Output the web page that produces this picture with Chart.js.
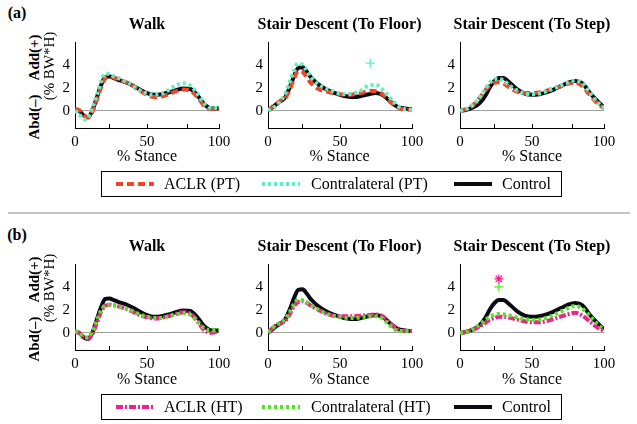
<!DOCTYPE html>
<html><head><meta charset="utf-8">
<script src="https://cdn.jsdelivr.net/npm/chart.js@4"></script>
<style>
body{margin:0;background:#fff;width:637px;height:424px;overflow:hidden;position:relative;font-family:'Liberation Serif','DejaVu Serif','Noto Serif',serif;color:#000}
.t{position:absolute;white-space:pre;transform:translate(-50%,-50%);line-height:1}
.r{position:absolute;white-space:pre;transform:translate(-50%,-50%) rotate(-90deg);line-height:1}
.b{font-weight:bold}
canvas{position:absolute}
.leg{position:absolute;border:1px solid #000;box-sizing:border-box;background:#fff}
.li{position:absolute;top:50%;transform:translateY(-50%);font-size:16px;white-space:pre;line-height:1}
.ls{position:absolute;top:50%;transform:translateY(-50%)}
.sep{position:absolute;left:8px;top:212px;width:622px;height:2px;background:#c4c4c4}
</style></head><body>
<div id="root"></div>
<script>
// ---------- data ----------
const xs = [0,3,6,9,12,15,18,21,24,27,30,35,40,45,50,55,60,65,70,75,80,85,90,95,100];

const walkControl  = [0.1,0.0,-0.4,-0.55,0.0,1.1,2.2,2.95,3.0,2.85,2.7,2.5,2.2,1.85,1.55,1.4,1.45,1.6,1.8,1.95,1.9,1.35,0.55,0.2,0.2];
const walkAclrPT   = [0.15,0.05,-0.4,-0.6,-0.1,0.9,2.0,2.85,3.0,2.9,2.75,2.5,2.2,1.75,1.4,1.2,1.25,1.45,1.7,1.85,1.75,1.2,0.4,0.15,0.15];
const walkContraPT = [0.0,-0.3,-0.75,-0.6,0.2,1.3,2.5,3.25,3.2,3.0,2.85,2.55,2.2,1.8,1.5,1.4,1.5,1.8,2.2,2.4,2.2,1.5,0.6,0.25,0.25];
const walkAclrHT   = [0.1,0.0,-0.35,-0.5,-0.1,0.8,1.8,2.35,2.45,2.4,2.3,2.1,1.85,1.55,1.35,1.25,1.3,1.45,1.65,1.8,1.7,1.0,0.2,0.0,0.15];
const walkContraHT = [0.15,0.0,-0.35,-0.4,0.1,1.0,1.9,2.4,2.45,2.4,2.3,2.15,1.9,1.6,1.4,1.3,1.3,1.45,1.6,1.7,1.6,1.0,0.35,0.2,0.25];

const floorControl  = [0.0,0.3,0.6,0.85,1.2,2.0,3.0,3.75,3.8,3.4,2.9,2.3,1.9,1.6,1.4,1.25,1.2,1.3,1.45,1.55,1.35,0.8,0.35,0.2,0.15];
const floorAclrPT   = [0.0,0.35,0.65,0.9,1.1,1.8,2.8,3.45,3.4,2.9,2.4,1.9,1.7,1.55,1.45,1.4,1.45,1.55,1.75,1.7,1.4,0.8,0.3,0.1,0.1];
const floorContraPT = [0.05,0.2,0.5,0.9,1.5,2.5,3.5,4.15,4.0,3.5,2.9,2.3,1.95,1.7,1.5,1.45,1.55,1.8,2.2,2.25,1.8,1.1,0.45,0.15,0.1];
const floorAclrHT   = [0.0,0.4,0.7,0.85,1.05,1.6,2.3,2.7,2.75,2.6,2.35,2.0,1.7,1.5,1.45,1.45,1.45,1.5,1.55,1.6,1.4,0.8,0.3,0.15,0.15];
const floorContraHT = [0.05,0.4,0.7,0.9,1.2,1.8,2.5,2.9,2.85,2.65,2.4,2.0,1.7,1.5,1.4,1.3,1.3,1.35,1.45,1.45,1.2,0.6,0.2,0.15,0.15];

const stepControl  = [0.0,0.05,0.15,0.3,0.5,0.85,1.4,2.1,2.6,2.85,2.85,2.4,1.85,1.5,1.4,1.45,1.6,1.85,2.15,2.45,2.6,2.4,1.6,0.9,0.3];
const stepAclrPT   = [0.0,0.1,0.25,0.5,0.9,1.35,1.85,2.25,2.45,2.5,2.4,1.95,1.65,1.55,1.55,1.6,1.75,1.95,2.15,2.35,2.45,2.15,1.4,0.7,0.2];
const stepContraPT = [0.0,0.1,0.25,0.5,0.9,1.4,2.0,2.5,2.75,2.8,2.65,2.15,1.75,1.5,1.45,1.5,1.7,1.95,2.2,2.45,2.65,2.4,1.6,0.8,0.25];
const stepAclrHT   = [0.0,0.05,0.15,0.25,0.45,0.65,0.9,1.15,1.3,1.4,1.4,1.3,1.15,1.0,0.92,0.92,1.02,1.2,1.42,1.62,1.75,1.5,1.0,0.5,0.15];
const stepContraHT = [0.0,0.05,0.15,0.3,0.55,0.85,1.15,1.4,1.6,1.65,1.62,1.5,1.32,1.2,1.12,1.15,1.3,1.55,1.85,2.15,2.35,2.1,1.5,0.8,0.25];

// significance markers [x, y]
const floorContraPTMark = [[71, 4.15]];
const stepAclrHTMark    = [[27, 4.7]];
const stepContraHTMark  = [[27, 4.0]];

const xTickValues = [0,23.5,50,77.5,100];
const xTickLabels = {0:'0',50:'50',100:'100'};
const yTickValues = [0,2,4];
const panelTitles = ['Walk','Stair Descent (To Floor)','Stair Descent (To Step)'];
const legendA = ['ACLR (PT)','Contralateral (PT)','Control'];
const legendB = ['ACLR (HT)','Contralateral (HT)','Control'];

// ---------- styles ----------
const FONT = "'Liberation Serif','DejaVu Serif','Noto Serif',serif";
const ST = {
  control:  {color:'#0a0a14', dash:[],        w:4},
  aclrPT:   {color:'#f2432b', dash:[7,4],     w:4},
  contraPT: {color:'#5ef0c0', dash:[3,3],     w:4},
  aclrHT:   {color:'#f0208e', dash:[7,2,2,2], w:4},
  contraHT: {color:'#52e622', dash:[3,3],     w:4}
};

const root = document.getElementById('root');
function txt(cls, s, x, y, size){
  const d=document.createElement('div'); d.className=cls; d.textContent=s;
  d.style.left=x+'px'; d.style.top=y+'px'; d.style.fontSize=size+'px'; root.appendChild(d); return d;
}

const inwardTicks = {
  id:'inwardTicks',
  afterDraw(chart){
    const {ctx, scales:{x,y}} = chart;
    ctx.save(); ctx.strokeStyle='#000'; ctx.lineWidth=1; ctx.beginPath();
    xTickValues.forEach(v=>{const px=Math.round(x.getPixelForValue(v))+0.5; ctx.moveTo(px,y.bottom); ctx.lineTo(px,y.bottom-4);});
    ctx.stroke(); ctx.restore();
  }
};

function lineDS(vals, st, order){
  return {data: xs.map((x,i)=>({x, y: vals[i]})), borderColor: st.color, borderWidth: st.w, borderDash: st.dash,
          pointRadius:0, fill:false, cubicInterpolationMode:'monotone', order, borderCapStyle:'butt'};
}
function markDS(pts, color, style){
  return {data: pts.map(p=>({x:p[0], y:p[1]})), showLine:false, pointStyle:style, pointRadius:4.5,
          borderColor:color, backgroundColor:color, pointBorderWidth:1.3, order:0};
}

const axisLefts = [75, 267.5, 460];
const axisTops = [38, 260];
const PW = 144, PH = 90;

function makePlot(col, row, datasets){
  const cv = document.createElement('canvas');
  const W = PW + 50, H = PH + 40;
  cv.width = W; cv.height = H;
  cv.style.left = (axisLefts[col]-30)+'px'; cv.style.top = (axisTops[row]-10)+'px';
  cv.style.width = W+'px'; cv.style.height = H+'px';
  root.appendChild(cv);
  new Chart(cv, {
    type:'line',
    data:{datasets},
    plugins:[inwardTicks],
    options:{
      responsive:false, animation:false, devicePixelRatio:1,
      layout:{padding:{left:0,right:20,top:10,bottom:0}},
      plugins:{legend:{display:false}, tooltip:{enabled:false}},
      elements:{line:{tension:0.4}},
      scales:{
        x:{type:'linear', min:0, max:100,
           afterFit:s=>{s.height=30;},
           afterBuildTicks:s=>{s.ticks=xTickValues.map(v=>({value:v}));},
           ticks:{autoSkip:false, maxRotation:0, padding:5, color:'#000', font:{family:FONT,size:15},
                  callback:v=>(xTickLabels[v]!==undefined?xTickLabels[v]:'')},
           grid:{display:false, drawTicks:false},
           border:{display:true, color:'#000', width:1}},
        y:{type:'linear', min:-1.5, max:6,
           afterFit:s=>{s.width=30;},
           afterBuildTicks:s=>{s.ticks=yTickValues.map(v=>({value:v}));},
           ticks:{padding:5, color:'#000', font:{family:FONT,size:15}},
           grid:{drawTicks:false, lineWidth:1, color:c=>(c.tick && c.tick.value===0 ? '#a0a0a0' : 'rgba(0,0,0,0)')},
           border:{display:true, color:'#000', width:1}}
      }
    }
  });
}

// panel (a)
makePlot(0,0,[lineDS(walkContraPT,ST.contraPT,1), lineDS(walkAclrPT,ST.aclrPT,2), lineDS(walkControl,ST.control,3)]);
makePlot(1,0,[lineDS(floorContraPT,ST.contraPT,1), lineDS(floorAclrPT,ST.aclrPT,2), lineDS(floorControl,ST.control,3),
              markDS(floorContraPTMark, ST.contraPT.color, 'cross')]);
makePlot(2,0,[lineDS(stepContraPT,ST.contraPT,1), lineDS(stepAclrPT,ST.aclrPT,2), lineDS(stepControl,ST.control,3)]);
// panel (b)
makePlot(0,1,[lineDS(walkContraHT,ST.contraHT,1), lineDS(walkAclrHT,ST.aclrHT,2), lineDS(walkControl,ST.control,3)]);
makePlot(1,1,[lineDS(floorContraHT,ST.contraHT,1), lineDS(floorAclrHT,ST.aclrHT,2), lineDS(floorControl,ST.control,3)]);
makePlot(2,1,[lineDS(stepContraHT,ST.contraHT,1), lineDS(stepAclrHT,ST.aclrHT,2), lineDS(stepControl,ST.control,3),
              markDS(stepAclrHTMark, ST.aclrHT.color, 'star'), markDS(stepContraHTMark, ST.contraHT.color, 'cross')]);

// text
txt('t b','(a)',17,13,16);
txt('t b','(b)',17,235,16);
[0,1].forEach(r=>{
  const top = axisTops[r];
  panelTitles.forEach((t,c)=>{
    const cx = axisLefts[c]+PW/2;
    txt('t b', t, cx, top-14.5, 16);
    txt('t', '% Stance', cx, top+PH+28+ (r?1:0), 16);
  });
  txt('r b','Abd(\u2013)    Add(+)',34,top+49,15);
  txt('r','(% BW*H)',49,top+28,15);
});
const sep=document.createElement('div'); sep.className='sep'; root.appendChild(sep);

function legend(top, labels, styles){
  const box=document.createElement('div'); box.className='leg';
  box.style.left='101px'; box.style.top=top+'px'; box.style.width='461px'; box.style.height='26px';
  const sx=[14,160,352], tx=[62,209,400];
  labels.forEach((l,i)=>{
    const st=styles[i];
    const svg=document.createElementNS('http://www.w3.org/2000/svg','svg');
    svg.setAttribute('width','38'); svg.setAttribute('height','8'); svg.setAttribute('class','ls');
    svg.style.left=sx[i]+'px';
    const ln=document.createElementNS('http://www.w3.org/2000/svg','line');
    ln.setAttribute('x1','0'); ln.setAttribute('x2','38'); ln.setAttribute('y1','4'); ln.setAttribute('y2','4');
    ln.setAttribute('stroke',st.color); ln.setAttribute('stroke-width','4');
    if(st.dash.length) ln.setAttribute('stroke-dasharray',st.dash.join(','));
    svg.appendChild(ln); box.appendChild(svg);
    const t=document.createElement('div'); t.className='li'; t.textContent=l; t.style.left=tx[i]+'px'; box.appendChild(t);
  });
  root.appendChild(box);
}
legend(171, legendA, [ST.aclrPT, ST.contraPT, ST.control]);
legend(394, legendB, [ST.aclrHT, ST.contraHT, ST.control]);
</script>
</body></html>
